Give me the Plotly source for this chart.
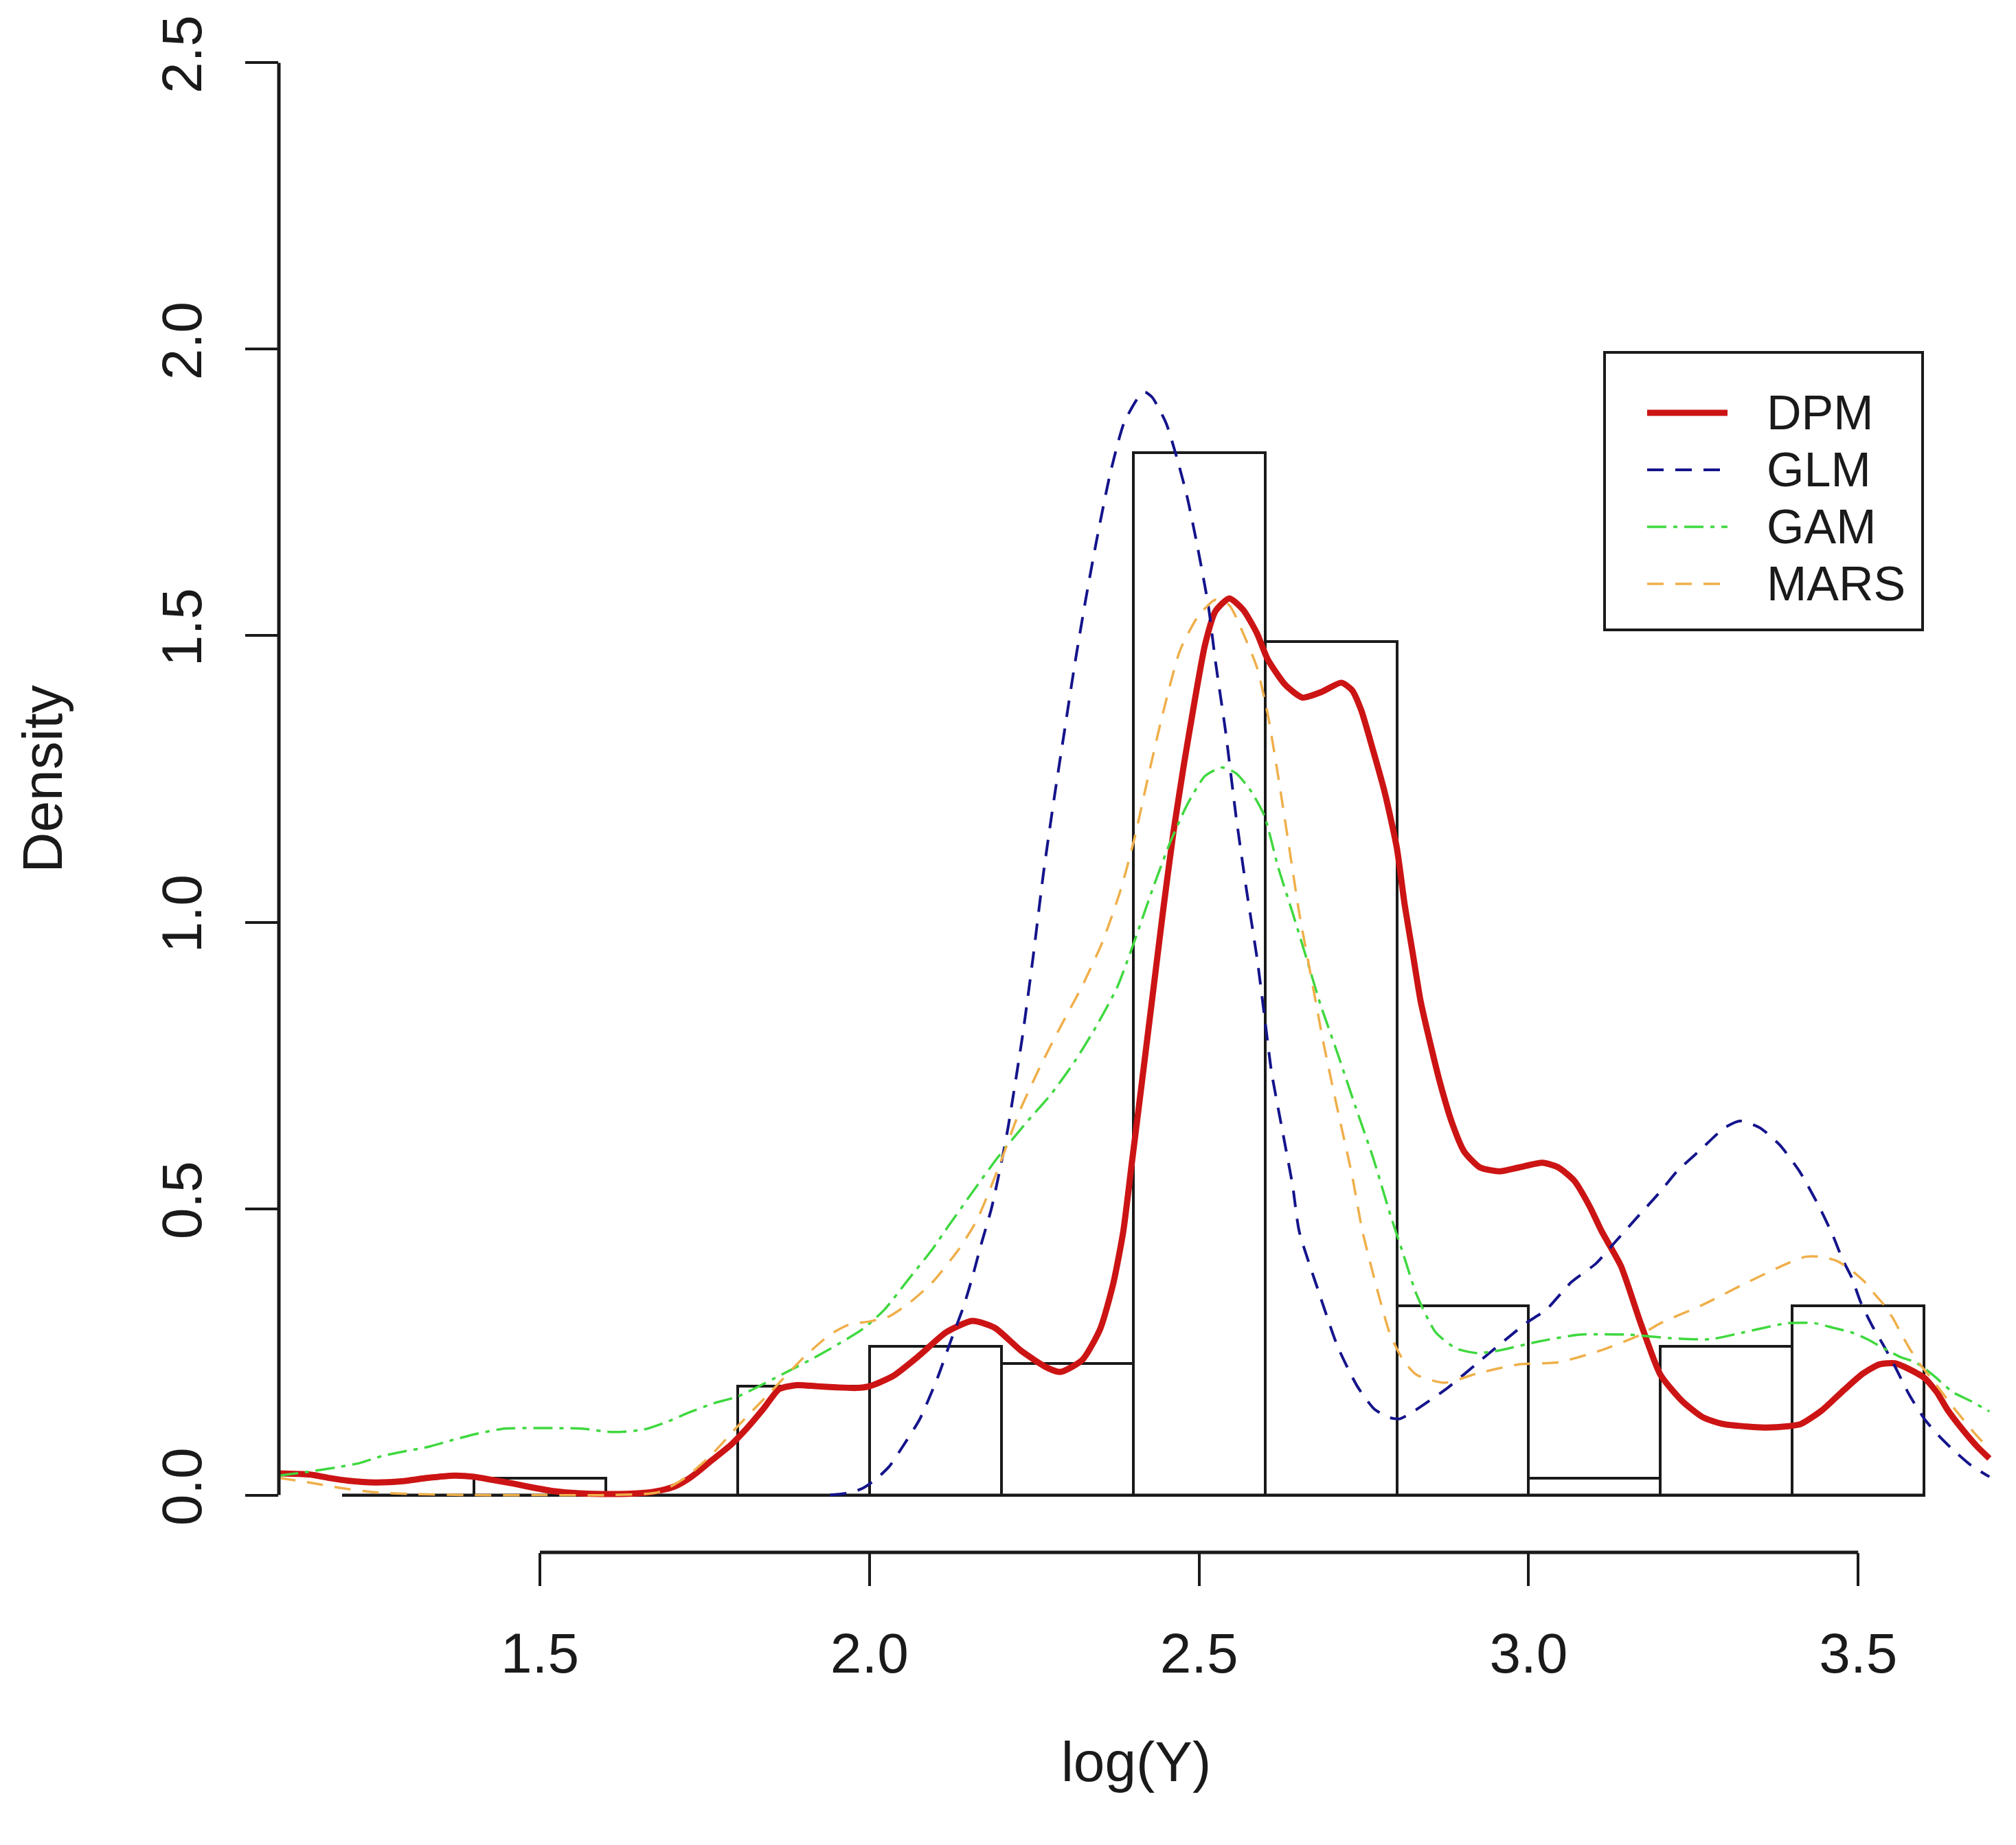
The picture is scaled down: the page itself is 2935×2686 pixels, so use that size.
import plotly.graph_objects as go

# ---------------- data ----------------
bin_edges = [1.2, 1.4, 1.6, 1.8, 2.0, 2.2, 2.4, 2.6, 2.8, 3.0, 3.2, 3.4, 3.6]
hist_density = [0.0, 0.03, 0.0, 0.19, 0.26, 0.23, 1.82, 1.49, 0.33, 0.03, 0.26, 0.33]

dpm_x = [1.104, 1.15, 1.18, 1.21, 1.25, 1.29, 1.33, 1.37, 1.40, 1.43, 1.46, 1.49, 1.52, 1.56,
         1.62, 1.66, 1.69, 1.71, 1.73, 1.76, 1.79, 1.815, 1.84, 1.863, 1.89, 1.92, 1.95, 1.98,
         2.0, 2.036, 2.076, 2.116, 2.156, 2.19, 2.23, 2.27, 2.29, 2.323, 2.35, 2.37, 2.385,
         2.397, 2.413, 2.429, 2.445, 2.461, 2.477, 2.493, 2.509, 2.525, 2.546, 2.567, 2.588,
         2.604, 2.631, 2.657, 2.686, 2.716, 2.732, 2.746, 2.764, 2.782, 2.8, 2.812, 2.824,
         2.836, 2.848, 2.866, 2.884, 2.902, 2.926, 2.956, 2.986, 3.021, 3.045, 3.069, 3.093,
         3.111, 3.14, 3.17, 3.2, 3.233, 3.264, 3.295, 3.357, 3.392, 3.413, 3.445, 3.479,
         3.507, 3.532, 3.556, 3.577, 3.601, 3.619, 3.636, 3.66, 3.681, 3.699]
dpm_y = [0.038, 0.036, 0.03, 0.025, 0.022, 0.024, 0.03, 0.034, 0.032, 0.026, 0.02, 0.013,
         0.007, 0.003, 0.002, 0.004, 0.01, 0.018, 0.032, 0.06, 0.088, 0.118, 0.152, 0.185,
         0.192, 0.19, 0.188, 0.187, 0.19, 0.208, 0.244, 0.284, 0.304, 0.292, 0.252, 0.222,
         0.215, 0.236, 0.29, 0.37, 0.46, 0.57, 0.718, 0.867, 1.016, 1.156, 1.275, 1.384,
         1.484, 1.543, 1.565, 1.545, 1.504, 1.459, 1.414, 1.392, 1.402, 1.418, 1.405, 1.37,
         1.30, 1.225, 1.13, 1.03, 0.947, 0.863, 0.802, 0.718, 0.649, 0.6, 0.572, 0.565,
         0.572, 0.58, 0.572, 0.549, 0.503, 0.46, 0.40, 0.30, 0.21, 0.164, 0.136, 0.124,
         0.118, 0.12, 0.124, 0.148, 0.184, 0.212, 0.228, 0.23, 0.22, 0.204, 0.18, 0.148,
         0.112, 0.084, 0.064]

glm_x = [1.94, 1.97, 1.99, 2.01, 2.03, 2.05, 2.076, 2.103, 2.123, 2.143, 2.156, 2.17, 2.185,
         2.2, 2.21, 2.232, 2.248, 2.264, 2.28, 2.296, 2.312, 2.328, 2.344, 2.365, 2.386,
         2.408, 2.418, 2.429, 2.45, 2.466, 2.482, 2.498, 2.514, 2.525, 2.54, 2.556, 2.572,
         2.588, 2.599, 2.61, 2.626, 2.642, 2.652, 2.68, 2.71, 2.74, 2.766, 2.79, 2.804,
         2.828, 2.878, 2.928, 2.996, 3.027, 3.065, 3.102, 3.133, 3.164, 3.2, 3.225, 3.261,
         3.297, 3.321, 3.351, 3.381, 3.411, 3.441, 3.462, 3.476, 3.49, 3.504, 3.521, 3.539,
         3.556, 3.577, 3.601, 3.622, 3.643, 3.671, 3.699]
glm_y = [0.0, 0.004, 0.012, 0.028, 0.05, 0.084, 0.132, 0.204, 0.268, 0.33, 0.38, 0.44, 0.5,
         0.58, 0.64, 0.8, 0.937, 1.086, 1.215, 1.335, 1.454, 1.563, 1.663, 1.782, 1.871,
         1.916, 1.925, 1.916, 1.871, 1.812, 1.742, 1.653, 1.553, 1.454, 1.335, 1.186, 1.056,
         0.937, 0.838, 0.738, 0.639, 0.54, 0.46, 0.36, 0.26, 0.19, 0.15, 0.135, 0.133,
         0.148, 0.188, 0.236, 0.30, 0.324, 0.372, 0.404, 0.444, 0.484, 0.53, 0.565, 0.603,
         0.641, 0.653, 0.641, 0.611, 0.565, 0.503, 0.452, 0.412, 0.38, 0.336, 0.296, 0.26,
         0.224, 0.176, 0.132, 0.104, 0.08, 0.052, 0.032]

gam_x = [1.104, 1.144, 1.19, 1.227, 1.26, 1.293, 1.33, 1.367, 1.4, 1.446, 1.493, 1.563,
         1.61, 1.656, 1.693, 1.726, 1.763, 1.8, 1.856, 1.923, 1.99, 2.023, 2.056, 2.096,
         2.12, 2.157, 2.195, 2.237, 2.275, 2.312, 2.344, 2.376, 2.402, 2.429, 2.455, 2.482,
         2.509, 2.535, 2.556, 2.578, 2.599, 2.62, 2.642, 2.663, 2.684, 2.711, 2.737, 2.764,
         2.79, 2.81, 2.83, 2.859, 2.89, 2.921, 2.953, 3.015, 3.077, 3.152, 3.214, 3.276,
         3.326, 3.392, 3.434, 3.462, 3.49, 3.514, 3.539, 3.566, 3.587, 3.615, 3.643, 3.671,
         3.699]
gam_y = [0.034, 0.04, 0.048, 0.056, 0.068, 0.076, 0.084, 0.096, 0.106, 0.116, 0.117, 0.116,
         0.11, 0.114, 0.128, 0.144, 0.16, 0.172, 0.204, 0.244, 0.29, 0.324, 0.372, 0.43,
         0.47, 0.53, 0.59, 0.649, 0.699, 0.758, 0.818, 0.887, 0.967, 1.056, 1.136, 1.205,
         1.255, 1.27, 1.26, 1.23, 1.186, 1.096, 1.016, 0.937, 0.857, 0.768, 0.679, 0.589,
         0.49, 0.42, 0.35, 0.284, 0.256, 0.248, 0.252, 0.268, 0.28, 0.28, 0.274, 0.272,
         0.284, 0.30, 0.30, 0.292, 0.284, 0.272, 0.256, 0.24, 0.232, 0.208, 0.18, 0.164,
         0.146]

mars_x = [1.104, 1.15, 1.2, 1.25, 1.3, 1.4, 1.5, 1.6, 1.68, 1.72, 1.76, 1.8, 1.85, 1.9,
          1.94, 1.97, 2.0, 2.03, 2.06, 2.096, 2.136, 2.163, 2.195, 2.227, 2.259, 2.29,
          2.322, 2.354, 2.381, 2.402, 2.423, 2.445, 2.471, 2.498, 2.525, 2.546, 2.567, 2.588,
          2.604, 2.62, 2.636, 2.652, 2.668, 2.689, 2.711, 2.732, 2.748, 2.77, 2.79, 2.81,
          2.83, 2.872, 2.921, 2.984, 3.046, 3.108, 3.17, 3.2, 3.264, 3.326, 3.392, 3.42,
          3.445, 3.469, 3.49, 3.51, 3.524, 3.539, 3.553, 3.566, 3.58, 3.594, 3.61, 3.63,
          3.65, 3.675, 3.699]
mars_y = [0.03, 0.022, 0.012, 0.005, 0.002, 0.0, 0.0, 0.0, 0.005, 0.03, 0.07, 0.12, 0.18,
          0.24, 0.28, 0.298, 0.303, 0.312, 0.335, 0.372, 0.43, 0.48, 0.569, 0.668, 0.748,
          0.818, 0.887, 0.967, 1.056, 1.146, 1.255, 1.364, 1.474, 1.533, 1.563, 1.553,
          1.504, 1.444, 1.364, 1.255, 1.136, 1.016, 0.917, 0.788, 0.668, 0.559, 0.46, 0.36,
          0.28, 0.235, 0.21, 0.196, 0.212, 0.228, 0.232, 0.252, 0.28, 0.30, 0.332, 0.368,
          0.404, 0.416, 0.416, 0.408, 0.392, 0.372, 0.352, 0.332, 0.308, 0.28, 0.252,
          0.228, 0.205, 0.175, 0.145, 0.11, 0.08]

x_ticks = [1.5, 2.0, 2.5, 3.0, 3.5]
x_tick_labels = ["1.5", "2.0", "2.5", "3.0", "3.5"]
y_ticks = [0.0, 0.5, 1.0, 1.5, 2.0, 2.5]
y_tick_labels = ["0.0", "0.5", "1.0", "1.5", "2.0", "2.5"]

series = [
    ("DPM", dpm_x, dpm_y, "#CC1414", 9, "solid"),
    ("GLM", glm_x, glm_y, "#14148C", 4, "24px,17px"),
    ("GAM", gam_x, gam_y, "#3FD83F", 3.5, "28px,10px,6px,10px"),
    ("MARS", mars_x, mars_y, "#EFAF4A", 3.5, "24px,17px"),
]

# ---------------- figure ----------------
BODY = 8                      # default page margin around the plot div
PAGE_W, PAGE_H = 2935, 2686
W, H = PAGE_W - BODY, PAGE_H - BODY
# plot area in page pixels
PL, PR, PT, PB = 406, 2902, 8, 2260
ML, MR, MT, MB = PL - BODY, BODY + W - PR, PT - BODY, BODY + H - PB
FONT = "Liberation Sans, Arial, sans-serif"
INK = "#1a1a1a"

fig = go.Figure()

centers = [(a + b) / 2 for a, b in zip(bin_edges[:-1], bin_edges[1:])]
widths = [b - a for a, b in zip(bin_edges[:-1], bin_edges[1:])]
fig.add_trace(go.Bar(x=centers, y=hist_density, width=widths,
                     marker=dict(color="rgba(0,0,0,0)", line=dict(color=INK, width=4)),
                     showlegend=False, hoverinfo="skip"))
# zero-height bins are drawn as a baseline, as in R's hist()
fig.add_trace(go.Scatter(x=[bin_edges[0], bin_edges[-1]], y=[0, 0], mode="lines",
                         line=dict(color=INK, width=4), showlegend=False, hoverinfo="skip"))

for name, xs, ys, col, lw, dash in series:
    fig.add_trace(go.Scatter(x=xs, y=ys, mode="lines", name=name,
                             line=dict(color=col, width=lw, dash=dash,
                                       shape="spline", smoothing=0.6),
                             showlegend=False))

# axis lines spanning first to last tick (R style)
fig.add_shape(type="line", xref="x", yref="paper", x0=x_ticks[0], x1=x_ticks[-1],
              y0=0, y1=0, line=dict(color=INK, width=5))
fig.add_shape(type="line", xref="paper", yref="y", x0=0, x1=0,
              y0=y_ticks[0], y1=y_ticks[-1], line=dict(color=INK, width=5))

pw = PR - PL
ph = PB - PT
def px(xp):
    return (xp - PL) / pw
def py(yp):
    return (PB - yp) / ph

# legend box (R style)
fig.add_shape(type="rect", xref="paper", yref="paper",
              x0=px(2336), x1=px(2799), y0=py(917), y1=py(513),
              line=dict(color=INK, width=4), fillcolor="white")
row_y = [601, 684, 767, 850]
for (name, xs, ys, col, lw, dash), ry in zip(series, row_y):
    fig.add_shape(type="line", xref="paper", yref="paper",
                  x0=px(2398), x1=px(2515), y0=py(ry), y1=py(ry),
                  line=dict(color=col, width=lw, dash=dash))
    fig.add_annotation(xref="paper", yref="paper", x=px(2570), y=py(ry),
                       text=name, showarrow=False, xanchor="left", yanchor="middle",
                       font=dict(family=FONT, size=70, color=INK))

fig.update_layout(
    width=W, height=H,
    margin=dict(l=ML, r=MR, t=MT, b=MB, autoexpand=False),
    paper_bgcolor="white", plot_bgcolor="white",
    showlegend=False,
    bargap=0,
    font=dict(family=FONT, color=INK),
    xaxis=dict(range=[1.104, 3.705], showgrid=False, zeroline=False, showline=False,
               tickmode="array", tickvals=x_ticks, ticktext=x_tick_labels,
               ticks="outside", ticklen=48, tickwidth=4, tickcolor=INK,
               tickfont=dict(family=FONT, size=82, color=INK),
               ticklabelstandoff=28,
               title=dict(text="log(Y)", font=dict(family=FONT, size=82, color=INK),
                          standoff=84)),
    yaxis=dict(range=[-0.1, 2.6], showgrid=False, zeroline=False, showline=False,
               tickmode="array", tickvals=y_ticks, ticktext=y_tick_labels,
               ticks="outside", ticklen=48, tickwidth=4, tickcolor=INK,
               tickangle=-90,
               tickfont=dict(family=FONT, size=82, color=INK),
               ticklabelstandoff=31,
               title=dict(text="Density", font=dict(family=FONT, size=82, color=INK),
                          standoff=101)),
)

fig.write_html("out.html")
